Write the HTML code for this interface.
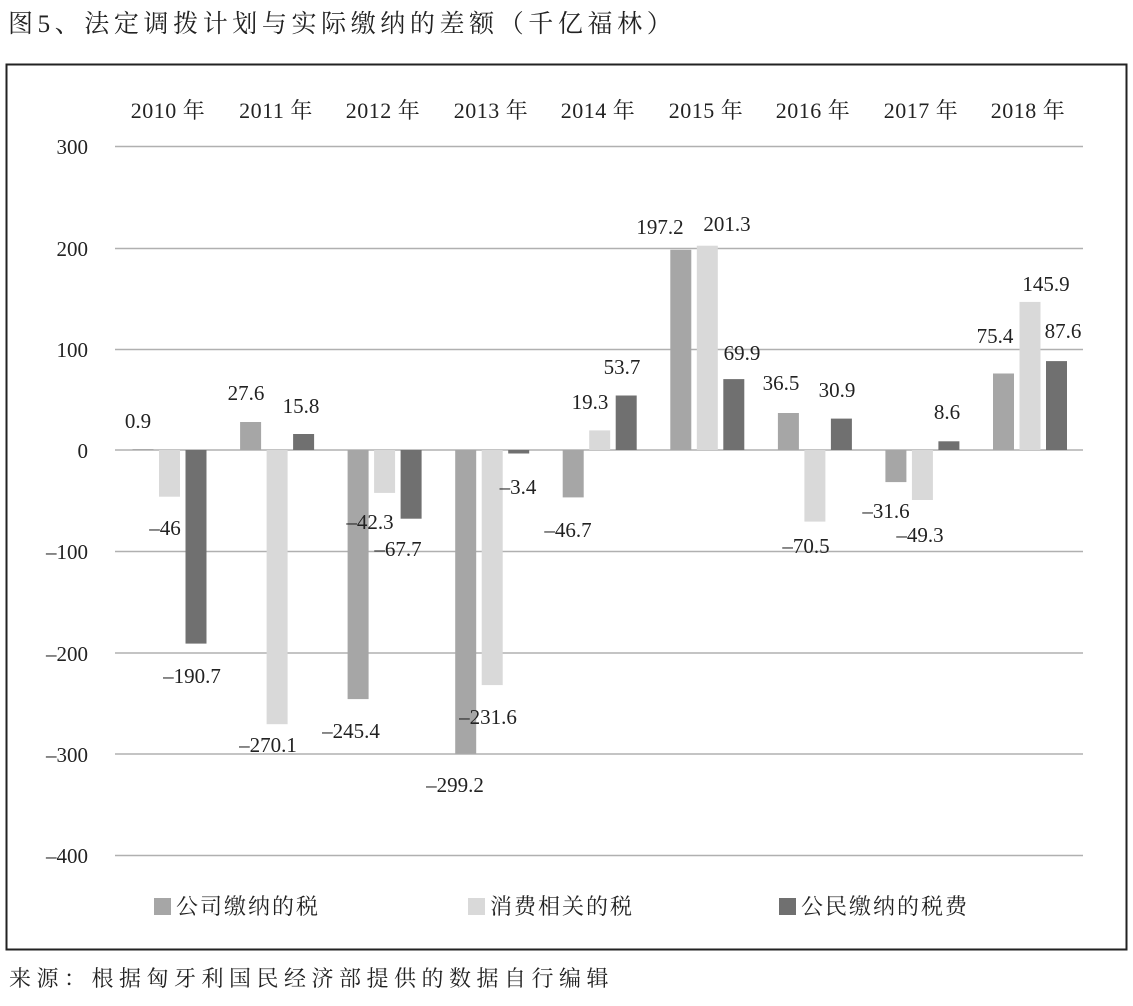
<!DOCTYPE html>
<html><head><meta charset="utf-8"><style>
html,body{margin:0;padding:0;background:#fff;}
svg{display:block;}
</style></head><body>
<svg width="1133" height="1006" viewBox="0 0 1133 1006" xmlns="http://www.w3.org/2000/svg">
<rect width="1133" height="1006" fill="#fff"/>
<text x="8" y="32" font-family="Liberation Serif, Noto Serif CJK SC, serif" font-size="25" letter-spacing="4.6" fill="#222">图5、法定调拨计划与实际缴纳的差额（千亿福林）</text>
<rect x="6.5" y="64.5" width="1120" height="885" fill="none" stroke="#222" stroke-width="2"/>
<g stroke="#b0b0b0" stroke-width="1.5">
<line x1="115" y1="146.5" x2="1083" y2="146.5"/>
<line x1="115" y1="248.5" x2="1083" y2="248.5"/>
<line x1="115" y1="349.5" x2="1083" y2="349.5"/>
<line x1="115" y1="450" x2="1083" y2="450"/>
<line x1="115" y1="551.5" x2="1083" y2="551.5"/>
<line x1="115" y1="653" x2="1083" y2="653"/>
<line x1="115" y1="754" x2="1083" y2="754"/>
<line x1="115" y1="855.5" x2="1083" y2="855.5"/>
</g>
<g font-family="Liberation Serif, serif" font-size="21" fill="#222" text-anchor="end">
<text x="88" y="154">300</text>
<text x="88" y="256">200</text>
<text x="88" y="357">100</text>
<text x="88" y="458">0</text>
<text x="88" y="559">–100</text>
<text x="88" y="661">–200</text>
<text x="88" y="762">–300</text>
<text x="88" y="863">–400</text>
</g>
<g font-family="Liberation Serif, Noto Serif CJK SC, serif" font-size="22" fill="#222" text-anchor="middle" letter-spacing="0.5">
<text x="168" y="118">2010 年</text>
<text x="276" y="118">2011 年</text>
<text x="383" y="118">2012 年</text>
<text x="491" y="118">2013 年</text>
<text x="598" y="118">2014 年</text>
<text x="706" y="118">2015 年</text>
<text x="813" y="118">2016 年</text>
<text x="921" y="118">2017 年</text>
<text x="1028" y="118">2018 年</text>
</g>
<g fill="#a6a6a6">
<rect x="132.5" y="449.1" width="21" height="0.9"/>
<rect x="240.1" y="422" width="21" height="28"/>
<rect x="347.6" y="450" width="21" height="249.1"/>
<rect x="455.2" y="450" width="21" height="303.7"/>
<rect x="562.7" y="450" width="21" height="47.4"/>
<rect x="670.3" y="249.8" width="21" height="200.2"/>
<rect x="777.9" y="413" width="21" height="37"/>
<rect x="885.4" y="450" width="21" height="32.1"/>
<rect x="993" y="373.5" width="21" height="76.5"/>
</g>
<g fill="#d9d9d9">
<rect x="159" y="450" width="21" height="46.7"/>
<rect x="266.6" y="450" width="21" height="274.2"/>
<rect x="374.1" y="450" width="21" height="42.9"/>
<rect x="481.7" y="450" width="21" height="235.1"/>
<rect x="589.2" y="430.4" width="21" height="19.6"/>
<rect x="696.8" y="245.7" width="21" height="204.3"/>
<rect x="804.4" y="450" width="21" height="71.6"/>
<rect x="911.9" y="450" width="21" height="50"/>
<rect x="1019.5" y="301.9" width="21" height="148.1"/>
</g>
<g fill="#707070">
<rect x="185.5" y="450" width="21" height="193.6"/>
<rect x="293.1" y="434" width="21" height="16"/>
<rect x="400.6" y="450" width="21" height="68.7"/>
<rect x="508.2" y="450" width="21" height="3.5"/>
<rect x="615.7" y="395.5" width="21" height="54.5"/>
<rect x="723.3" y="379.1" width="21" height="70.9"/>
<rect x="830.9" y="418.6" width="21" height="31.4"/>
<rect x="938.4" y="441.3" width="21" height="8.7"/>
<rect x="1046" y="361.1" width="21" height="88.9"/>
</g>
<g font-family="Liberation Serif, serif" font-size="21" fill="#222" text-anchor="middle">
<text x="138" y="428">0.9</text>
<text x="165" y="535">–46</text>
<text x="192" y="683">–190.7</text>
<text x="246" y="400">27.6</text>
<text x="301" y="413">15.8</text>
<text x="268" y="752">–270.1</text>
<text x="351" y="738">–245.4</text>
<text x="370" y="529">–42.3</text>
<text x="398" y="556">–67.7</text>
<text x="455" y="792">–299.2</text>
<text x="488" y="724">–231.6</text>
<text x="518" y="494">–3.4</text>
<text x="568" y="537">–46.7</text>
<text x="590" y="409">19.3</text>
<text x="622" y="374">53.7</text>
<text x="660" y="234">197.2</text>
<text x="727" y="231">201.3</text>
<text x="742" y="360">69.9</text>
<text x="781" y="390">36.5</text>
<text x="806" y="553">–70.5</text>
<text x="837" y="397">30.9</text>
<text x="886" y="518">–31.6</text>
<text x="920" y="542">–49.3</text>
<text x="947" y="419">8.6</text>
<text x="995" y="343">75.4</text>
<text x="1046" y="291">145.9</text>
<text x="1063" y="338">87.6</text>
</g>
<rect x="154" y="898" width="17" height="17" fill="#a6a6a6"/>
<rect x="468" y="898" width="17" height="17" fill="#d9d9d9"/>
<rect x="779" y="898" width="17" height="17" fill="#707070"/>
<g font-family="Liberation Serif, Noto Serif CJK SC, serif" font-size="22" fill="#222" letter-spacing="2">
<text x="176" y="914">公司缴纳的税</text>
<text x="490" y="914">消费相关的税</text>
<text x="801" y="914">公民缴纳的税费</text>
</g>
<text x="9" y="986" font-family="Liberation Serif, Noto Serif CJK SC, serif" font-size="22" letter-spacing="5.5" fill="#222">来源：根据匈牙利国民经济部提供的数据自行编辑</text>
</svg>
</body></html>
